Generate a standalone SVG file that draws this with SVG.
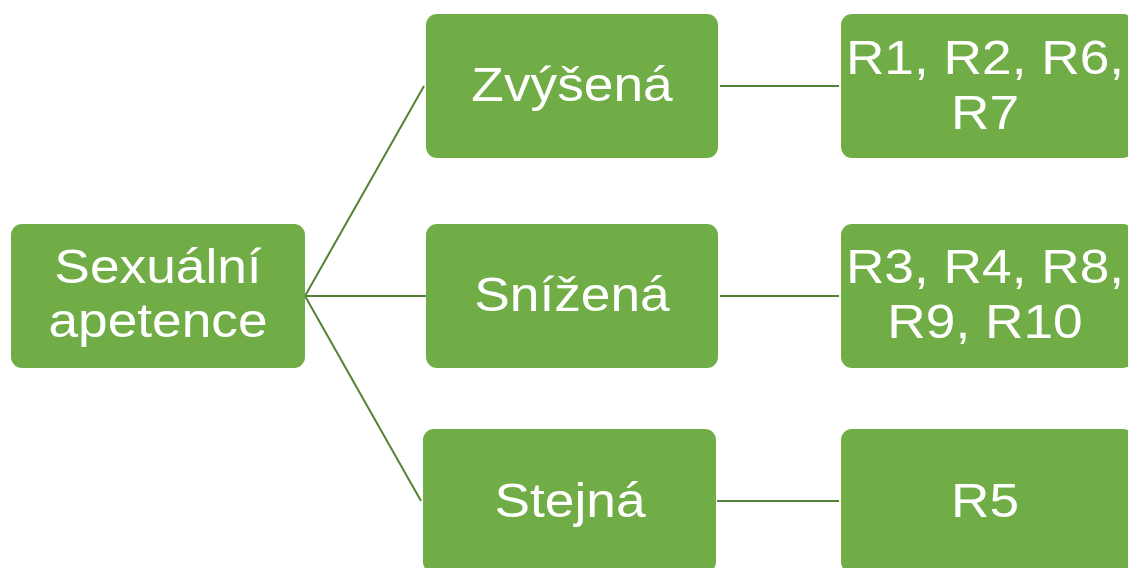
<svg xmlns="http://www.w3.org/2000/svg" width="1128" height="568" viewBox="0 0 1128 568">
<style>
.n{fill:#70AD47;}
.t{font-family:"Liberation Sans",Arial,sans-serif;font-size:48px;fill:#FFFFFF;text-anchor:middle;}
.c{stroke:#548235;stroke-width:2;fill:none;}
</style>
<rect width="1128" height="568" fill="#FFFFFF"/>
<g id="connectors">
<line class="c" x1="305" y1="296" x2="424" y2="86"/>
<line class="c" x1="305" y1="296" x2="426" y2="296"/>
<line class="c" x1="305" y1="296" x2="421" y2="501"/>
<line class="c" x1="720" y1="86" x2="839" y2="86"/>
<line class="c" x1="720" y1="296" x2="839" y2="296"/>
<line class="c" x1="717" y1="501" x2="839" y2="501"/>
</g>
<g id="root">
<rect class="n" x="11" y="224" width="294" height="144" rx="11"/>
<text class="t" transform="translate(158 283) scale(1.11 1)">Sexuální</text>
<text class="t" transform="translate(158 337) scale(1.11 1)">apetence</text>
</g>
<g id="zvysena">
<rect class="n" x="426" y="14" width="292" height="144" rx="11"/>
<text class="t" transform="translate(572 101) scale(1.11 1)">Zvýšená</text>
</g>
<g id="snizena">
<rect class="n" x="426" y="224" width="292" height="144" rx="11"/>
<text class="t" transform="translate(572 311) scale(1.11 1)">Snížená</text>
</g>
<g id="stejna">
<rect class="n" x="423" y="429" width="293" height="144" rx="11"/>
<text class="t" transform="translate(570 517) scale(1.11 1)">Stejná</text>
</g>
<g id="r1">
<rect class="n" x="841" y="14" width="293" height="144" rx="11"/>
<text class="t" transform="translate(985 74) scale(1.11 1)">R1, R2, R6,</text>
<text class="t" transform="translate(985 129) scale(1.11 1)">R7</text>
</g>
<g id="r3">
<rect class="n" x="841" y="224" width="293" height="144" rx="11"/>
<text class="t" transform="translate(985 283) scale(1.11 1)">R3, R4, R8,</text>
<text class="t" transform="translate(985 338) scale(1.11 1)">R9, R10</text>
</g>
<g id="r5">
<rect class="n" x="841" y="429" width="293" height="144" rx="11"/>
<text class="t" transform="translate(985 517) scale(1.11 1)">R5</text>
</g>
</svg>
